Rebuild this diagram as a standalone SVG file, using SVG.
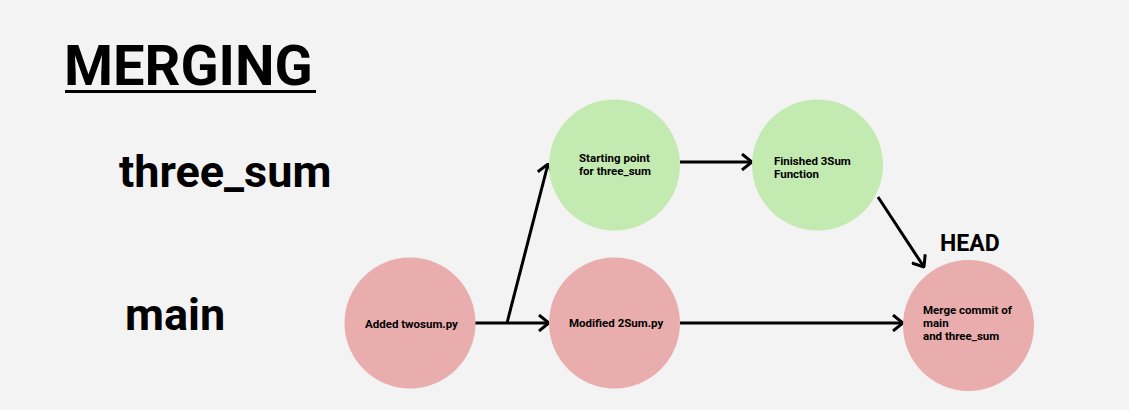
<svg xmlns="http://www.w3.org/2000/svg" width="1129" height="410" viewBox="0 0 1129 410">
<style>
text{font-family:Roboto,"Liberation Sans",sans-serif;font-weight:bold;fill:#000}
.lbl{font-size:11.5px}
.big{font-size:45px}
.red{fill:#eaadad}
.green{fill:#c3eab0}
.conn{stroke:#000;stroke-width:3;fill:none}
</style>
<defs>
<marker id="ah" viewBox="0 0 12 18" refX="11" refY="9" markerWidth="12" markerHeight="18" markerUnits="userSpaceOnUse" orient="auto">
<path d="M1,1 L11,9 L1,17" fill="none" stroke="#000" stroke-width="3"/>
</marker>
</defs>
<rect width="1129" height="410" fill="#f3f3f3"/>
<g id="title">
<text x="64" y="85" font-size="56">MERGING</text>
<rect x="65" y="90" width="251" height="3" fill="#000"/>
</g>
<g id="label-three_sum"><text class="big" x="119" y="187">three_sum</text></g>
<g id="label-main"><text class="big" x="125" y="330">main</text></g>
<g id="label-head"><text x="940" y="251" font-size="23">HEAD</text></g>
<g id="connectors">
<line class="conn" x1="475" y1="323" x2="549" y2="323" marker-end="url(#ah)"/>
<line class="conn" x1="507" y1="323" x2="548" y2="164" marker-end="url(#ah)"/>
<line class="conn" x1="680" y1="162" x2="752" y2="162" marker-end="url(#ah)"/>
<line class="conn" x1="878" y1="197" x2="924" y2="267" marker-end="url(#ah)"/>
<line class="conn" x1="680" y1="323" x2="903" y2="323" marker-end="url(#ah)"/>
</g>
<g id="node-added">
<circle class="red" cx="410" cy="323" r="65.5"/>
<text class="lbl" x="365" y="328">Added twosum.py</text>
</g>
<g id="node-modified">
<circle class="red" cx="614.5" cy="323" r="65.5"/>
<text class="lbl" x="569" y="327">Modified 2Sum.py</text>
</g>
<g id="node-starting">
<circle class="green" cx="614.5" cy="165" r="65.5"/>
<text class="lbl" x="579" y="162">Starting point</text>
<text class="lbl" x="579" y="175">for three_sum</text>
</g>
<g id="node-finished">
<circle class="green" cx="817.5" cy="165" r="65.5"/>
<text class="lbl" x="774" y="165">Finished 3Sum</text>
<text class="lbl" x="774" y="178">Function</text>
</g>
<g id="node-merge">
<circle class="red" cx="968.5" cy="325.5" r="65.5"/>
<text class="lbl" x="923" y="314">Merge commit of</text>
<text class="lbl" x="923" y="327">main</text>
<text class="lbl" x="923" y="340">and three_sum</text>
</g>
</svg>
